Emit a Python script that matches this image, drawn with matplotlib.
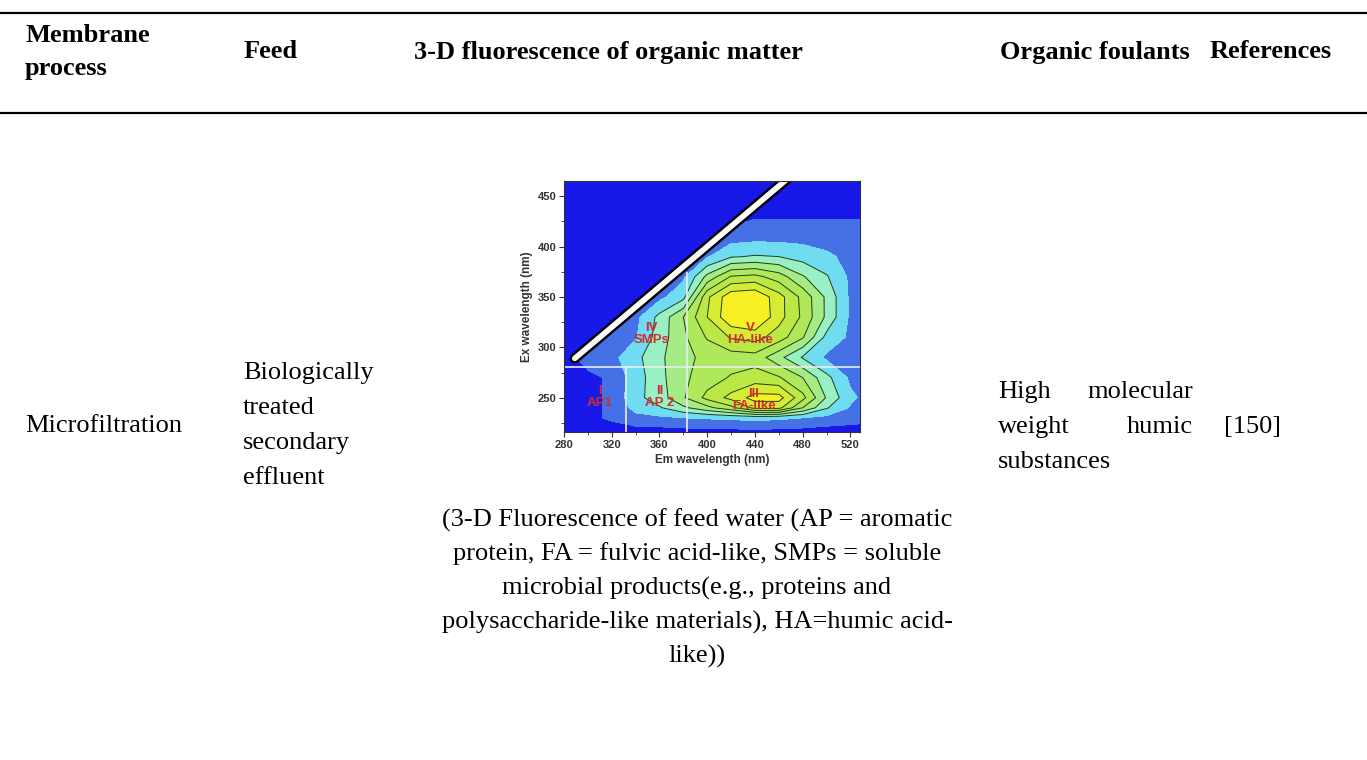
import numpy as np
import matplotlib.pyplot as plt
from matplotlib.colors import ListedColormap, BoundaryNorm

W, H = 1367, 760

# ---- table content ----
header_labels = ["Membrane", "process", "Feed", "3-D fluorescence of organic matter",
                 "Organic foulants", "References"]
header_x = [25, 25, 244, 414, 1000, 1210]
header_y = [35, 68, 52, 52, 52, 52]
process_name = "Microfiltration"
feed_lines = ["Biologically", "treated", "secondary", "effluent"]
caption_lines = ["(3-D Fluorescence of feed water (AP = aromatic",
                 "protein, FA = fulvic acid-like, SMPs = soluble",
                 "microbial products(e.g., proteins and",
                 "polysaccharide-like materials), HA=humic acid-",
                 "like))"]
foulant_words = [("High", "molecular"), ("weight", "humic"), ("substances", "")]
reference_tag = "[150]"

# ---- EEM data (fluorescence level on an em/ex grid) ----
em_nm = [280, 300, 320, 340, 360, 380, 400, 420, 440, 460, 480, 500, 520, 540]
ex_nm = [210, 230, 240, 250, 270, 290, 310, 330, 350, 370, 390, 410, 430, 450, 470]
level = [
    [-0.5] * 14,
    [0, 0.2, 0.7, 1.2, 1.3, 1.5, 1.6, 1.7, 1.8, 1.7, 1.5, 1.2, 1.0, 0.8],
    [0, 0.2, 0.7, 1.8, 2.4, 3.3, 4.2, 5.2, 6.8, 6.8, 4.5, 2.6, 1.4, 0.9],
    [0, 0.2, 0.7, 2.2, 3.0, 4.4, 5.8, 6.8, 7.9, 7.9, 5.8, 3.4, 1.7, 1.0],
    [0, 0.2, 0.7, 2.0, 3.2, 4.3, 5.0, 5.6, 5.9, 5.6, 4.5, 2.8, 1.3, 1.0],
    [0, 1.0, 1.2, 2.2, 3.3, 4.2, 4.8, 5.0, 5.1, 3.8, 2.4, 1.3, 1.1, 1.0],
    [0, 0, 1.0, 1.4, 3.0, 4.3, 5.6, 6.6, 6.9, 6.0, 4.6, 2.2, 1.3, 1.0],
    [0, 0, 0, 1.2, 2.8, 4.5, 6.5, 8.3, 8.6, 6.9, 5.3, 3.3, 1.3, 1.0],
    [0, 0, 0, 0, 1.2, 2.2, 6.3, 8.2, 8.4, 6.9, 5.2, 3.3, 1.3, 1.0],
    [0, 0, 0, 0, 0, 1.3, 3.8, 5.6, 5.8, 5.0, 3.6, 2.6, 1.3, 1.1],
    [0, 0, 0, 0, 0, 0, 1.4, 2.4, 2.6, 2.5, 2.1, 1.7, 1.2, 1.0],
    [0, 0, 0, 0, 0, 0, 0, 1.0, 1.1, 1.1, 1.1, 1.0, 1.0, 1.0],
    [0, 0, 0, 0, 0, 0, 0, 0, 0.4, 0.4, 0.4, 0.4, 0.4, 0.4],
    [0] * 14,
    [0] * 14,
]
scatter_em = [289, 475]          # first-order Rayleigh line (Ex = Em)
split_ex = 280
split_em = [332, 383]
split_top = [280, 375]
region_names = ["I\nAP1", "II\nAP 2", "III\nFA-like", "IV\nSMPs", "V\nHA-like"]
region_em = [310, 360, 439, 353, 436]
region_ex = [251, 251, 248, 313, 313]

band_colors = ["#1818e8", "#4670e6", "#6fdcf2", "#98f0c4", "#a6ec86",
               "#b0e85c", "#bce846", "#d6ec34", "#f6f024"]
band_edges = [-10, 0.5, 1.5, 2.5, 3.5, 4.5, 5.5, 6.5, 7.5, 20]

plt.rcParams['font.family'] = ['Liberation Serif', 'DejaVu Serif']

fig = plt.figure(figsize=(W / 100, H / 100), dpi=100)

tab = fig.add_axes([0, 0, 1, 1])
tab.set_xlim(0, W)
tab.set_ylim(H, 0)
tab.axis('off')

# rules
tab.plot([0, W], [13, 13], color='black', lw=1.6)
tab.plot([0, W], [113, 113], color='black', lw=1.6)

fs = 19
for lab, x, y in zip(header_labels, header_x, header_y):
    tab.text(x, y, lab, fontsize=fs, fontweight='bold', ha='left', va='center')

tab.text(25, 426, process_name, fontsize=fs, ha='left', va='center')
for i, t in enumerate(feed_lines):
    tab.text(243, 373 + i * 35, t, fontsize=fs, ha='left', va='center')
for i, t in enumerate(caption_lines):
    tab.text(697, 520 + i * 34, t, fontsize=fs, ha='center', va='center')
for i, (a, b) in enumerate(foulant_words):
    tab.text(998, 392 + i * 35, a, fontsize=fs, ha='left', va='center')
    if b:
        tab.text(1193, 392 + i * 35, b, fontsize=fs, ha='right', va='center')
tab.text(1224, 427, reference_tag, fontsize=fs, ha='left', va='center')

# ---- EEM contour inset ----
ax = fig.add_axes([564 / W, (H - 432) / H, 296 / W, 251 / H])
cmap = ListedColormap(band_colors)
norm = BoundaryNorm(band_edges, cmap.N)
E, X = np.meshgrid(em_nm, ex_nm)
Z = np.array(level)
ax.contourf(E, X, Z, levels=band_edges, cmap=cmap, norm=norm)
ax.contour(E, X, Z, levels=band_edges[3:-1], colors='#1d3b1d', linewidths=0.7)

ax.plot(scatter_em, scatter_em, color='black', lw=7.5, solid_capstyle='round')
ax.plot(scatter_em, scatter_em, color='white', lw=4.0, solid_capstyle='round')

ax.axhline(split_ex, color='#e8eef0', lw=1.2)
for e, top in zip(split_em, split_top):
    ax.vlines(e, 200, top, color='#e8eef0', lw=1.2)

for name, e, x in zip(region_names, region_em, region_ex):
    ax.text(e, x, name, color='#cf2e2e', fontsize=9.5, fontweight='bold',
            ha='center', va='center', linespacing=1.0, family='Liberation Sans')

ax.set_xlim(280, 528)
ax.set_ylim(216, 465)
ax.set_xticks([280, 320, 360, 400, 440, 480, 520])
ax.set_xticks(range(300, 528, 40), minor=True)
ax.set_yticks([250, 300, 350, 400, 450])
ax.set_yticks(range(225, 465, 50), minor=True)
ax.tick_params(which='major', length=3.5, width=0.8, labelsize=8, colors='#333333', pad=2)
ax.tick_params(which='minor', length=2, width=0.6, colors='#333333')
for lab in ax.get_xticklabels() + ax.get_yticklabels():
    lab.set_fontweight('bold')
    lab.set_family('Liberation Sans')
ax.set_xlabel('Em wavelength (nm)', fontsize=8.5, fontweight='bold', color='#333333',
              family='Liberation Sans', labelpad=3)
ax.set_ylabel('Ex wavelength (nm)', fontsize=8.5, fontweight='bold', color='#333333',
              family='Liberation Sans', labelpad=3)
for s in ax.spines.values():
    s.set_color('#333333')
    s.set_linewidth(0.8)

fig.savefig('out.png', dpi=100)
